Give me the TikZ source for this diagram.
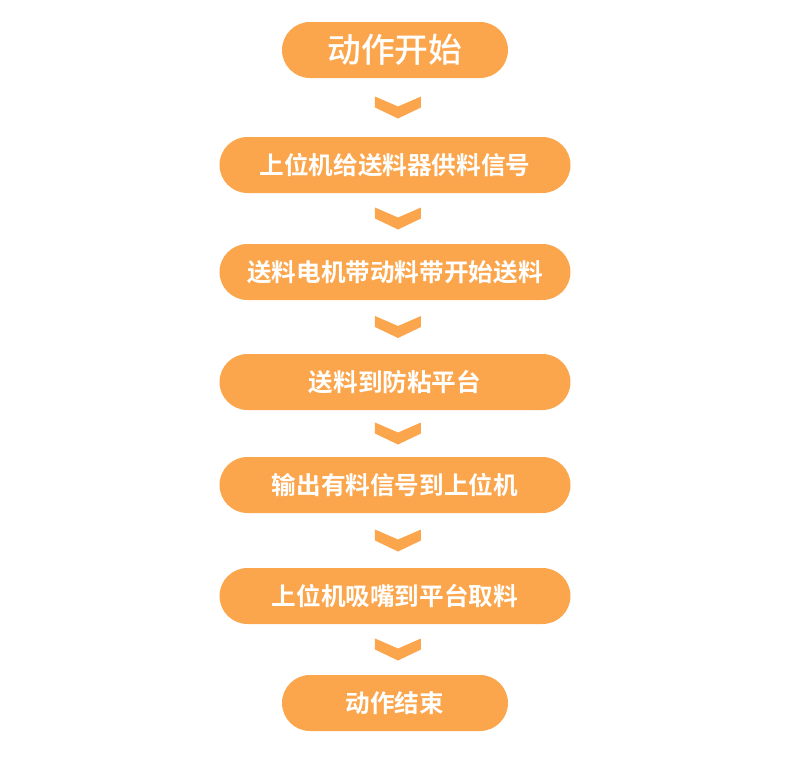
\documentclass[tikz,border=0pt]{standalone}
\usepackage{fontspec}
\newfontfamily\cjk{Noto Sans CJK SC}[BoldFont={Noto Sans CJK SC Bold}]
\newfontfamily\cjkmed{Noto Sans CJK SC Medium}
\usetikzlibrary{positioning,calc}
\definecolor{stepfill}{HTML}{FBA64C}

\begin{document}
\begin{tikzpicture}[on grid,
    stepbox/.style={rounded corners=0.28cm,fill=stepfill,minimum width=3.51cm,
        minimum height=0.56cm,inner sep=0pt,text=white,font=\cjk\bfseries\fontsize{7pt}{8pt}\selectfont},
    endbox/.style={stepbox,minimum width=2.26cm}]
   \useasboundingbox (0,0) rectangle (7.9,-7.7);
   \node[endbox,font=\cjkmed\fontsize{9.6pt}{10pt}\selectfont] (start) at (3.95,-0.5) {动作开始};
   \node[stepbox] (signal) [below=1.15 of start] {上位机给送料器供料信号};
   \node[stepbox] (feed)   [below=1.07 of signal] {送料电机带动料带开始送料};
   \node[stepbox] (table)  [below=1.10 of feed] {送料到防粘平台};
   \node[stepbox] (output) [below=1.03 of table] {输出有料信号到上位机};
   \node[stepbox] (pick)   [below=1.11 of output] {上位机吸嘴到平台取料};
   \node[endbox]  (stop)   [below=1.07 of pick] {动作结束};

   % chevrons between the steps
   \foreach \a/\b in {start/signal,signal/feed,feed/table,table/output,output/pick,pick/stop}{
     \coordinate (m-\a) at ($(\a.south)!0.5!(\b.north)+(0.03,0)$);
     \fill[stepfill,shift={(m-\a)}] (-0.23,0.11) -- (0,0.01) -- (0.23,0.11)
        -- (0.23,0) -- (0,-0.11) -- (-0.23,0) -- cycle;
   }
\end{tikzpicture}
\end{document}
